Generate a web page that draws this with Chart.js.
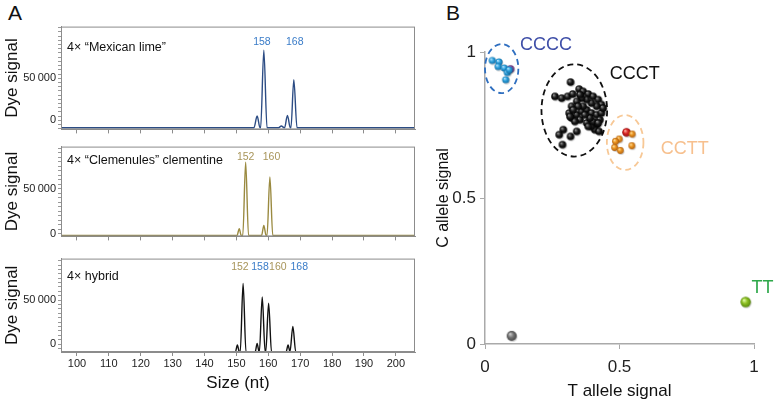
<!DOCTYPE html>
<html>
<head>
<meta charset="utf-8">
<script src="https://cdn.jsdelivr.net/npm/chart.js@4.4.0/dist/chart.umd.min.js"></script>
<style>
  body { margin: 0; background: #fff; width: 775px; height: 402px; overflow: hidden; position: relative; font-family: "Liberation Sans", Arial, sans-serif; }
  .box { position: absolute; }
  .lbl { position: absolute; font-size: 21px; color: #111; line-height: 24px; }
</style>
</head>
<body>
<div class="lbl" style="left:8px;top:1px">A</div>
<div class="lbl" style="left:446px;top:1px">B</div>
<div class="box" style="left:0;top:18px;width:420px;height:120px"><canvas id="p1"></canvas></div>
<div class="box" style="left:0;top:138px;width:420px;height:107px"><canvas id="p2"></canvas></div>
<div class="box" style="left:0;top:250px;width:420px;height:152px"><canvas id="p3"></canvas></div>
<div class="box" style="left:434px;top:0;width:341px;height:402px"><canvas id="scatter"></canvas></div>
<script>
var FONT = '"Liberation Sans", Arial, sans-serif';
Chart.defaults.font.family = FONT;
Chart.defaults.color = '#222';

// ---- panel A: electropherograms (size in nt, dye signal) ----
var limeSize   = [95, 150, 155.5, 156.5, 157.4, 157.6, 158.6, 159.6, 163.2, 164.1, 165.0, 165.1, 166.0, 166.9, 167.1, 168.0, 169.0, 170, 206];
var limeSignal = [-8800, -8800, -8800, 5100, -8800, -8800, 83400, -8800, -8800, -6800, -8800, -8800, 5800, -8800, -8800, 48100, -8800, -8800, -8800];

var clemSize   = [95, 150.2, 150.9, 151.5, 152.0, 152.9, 153.8, 157.9, 158.6, 159.3, 159.6, 160.5, 161.4, 206];
var clemSignal = [-1850, -1850, 5800, -1850, -1850, 79700, -1850, -1850, 9300, -1850, -1850, 63400, -1850, -1850];

var hybSize   = [95, 149.7, 150.3, 150.9, 151.2, 152.1, 153.0, 155.9, 156.5, 157.1, 157.2, 158.1, 159.0, 159.2, 160.1, 161.0, 165.6, 166.2, 166.8, 166.8, 167.7, 168.6, 206];
var hybSignal = [-8600, -8600, -1100, -8600, -8600, 69000, -8600, -8600, 800, -8600, -8600, 53700, -8600, -8600, 46600, -8600, -8600, -1100, -8600, -8600, 20100, -8600, -8600];

var sizeTicks   = [100, 110, 120, 130, 140, 150, 160, 170, 180, 190, 200];
var signalTicks = [-10000, -5000, 0, 5000, 10000, 15000, 20000, 25000, 30000, 35000, 40000, 45000, 50000,
                   55000, 60000, 65000, 70000, 75000, 80000, 85000, 90000, 95000, 100000, 105000, 110000];
var signalLabels = { 0: '0', 50000: '50\u2009000' };

var OLIVE = '#a8955a', BLUE = '#3a7cc8';
var limePeakPos = [158.0, 168.3];
var limePeakLbl = ['158', '168'];
var clemPeakPos = [152.9, 161.0];
var clemPeakLbl = ['152', '160'];
var hybPeakPos  = [151.1, 157.4, 163.0, 169.7];
var hybPeakLbl  = ['152', '158', '160', '168'];

// ---- panel B: allele signals ----
var ccccT = [0.027, 0.052, 0.049, 0.072, 0.083, 0.077, 0.090];
var ccccC = [0.971, 0.966, 0.950, 0.945, 0.930, 0.905, 0.939];
var purpleT = [0.095];
var purpleC = [0.942];
var ccctT = [0.318, 0.260, 0.285, 0.307, 0.326, 0.350, 0.365, 0.384, 0.402, 0.421, 0.433, 0.415, 0.396, 0.378, 0.359, 0.341, 0.322, 0.313, 0.322, 0.341, 0.359, 0.378, 0.396, 0.415, 0.433, 0.427, 0.415, 0.408, 0.424, 0.396, 0.378, 0.353, 0.334, 0.316, 0.291, 0.276, 0.288, 0.318, 0.341, 0.384, 0.402, 0.365, 0.346, 0.328, 0.390, 0.421, 0.439, 0.371, 0.353];
var ccctC = [0.897, 0.848, 0.842, 0.848, 0.856, 0.873, 0.865, 0.856, 0.848, 0.837, 0.820, 0.814, 0.825, 0.837, 0.842, 0.831, 0.814, 0.791, 0.774, 0.785, 0.797, 0.802, 0.791, 0.785, 0.791, 0.768, 0.751, 0.734, 0.728, 0.745, 0.757, 0.768, 0.762, 0.779, 0.734, 0.717, 0.683, 0.711, 0.728, 0.745, 0.762, 0.814, 0.814, 0.802, 0.774, 0.757, 0.808, 0.785, 0.854];
var ccttT = [0.547, 0.499, 0.485, 0.482, 0.503, 0.546];
var ccttC = [0.719, 0.702, 0.694, 0.673, 0.663, 0.679];
var redT = [0.526];
var redC = [0.725];
var ttT = [0.969];
var ttC = [0.144];
var nullT = [0.099];
var nullC = [0.028];

var groupNames = ['CCCC', 'CCCT', 'CCTT', 'TT'];
var groupLabelT = [0.227, 0.557, 0.743, 1.032];
var groupLabelC = [1.025, 0.926, 0.669, 0.190];
var groupColors = ['#3f4fa8', '#111111', '#f7c08e', '#2ea84a'];
// dashed ellipses: centre and radii in data units
var ellT  = [0.062, 0.332, 0.521];
var ellC  = [0.943, 0.800, 0.690];
var ellRT = [0.062, 0.122, 0.068];
var ellRC = [0.084, 0.158, 0.094];
var ellColors = ['#2f6fc0', '#111111', '#f7c896'];

function pts(xs, ys) { return xs.map(function (x, i) { return { x: x, y: ys[i] }; }); }

function fixedTicks(vals) {
  return function (ax) {
    ax.ticks = vals.filter(function (v) { return v >= ax.min && v <= ax.max; })
                   .map(function (v) { return { value: v }; });
  };
}

function panelDeco(title, titleDy, pos, lbl, colors, peakDy) {
  return {
    id: 'panelDeco',
    afterDraw: function (chart) {
      var ctx = chart.ctx, a = chart.chartArea, xs = chart.scales.x;
      ctx.save();
      ctx.strokeStyle = '#8c8c8c';
      ctx.lineWidth = 1;
      ctx.strokeRect(a.left + 0.5, a.top + 0.5, a.right - a.left - 1, a.bottom - a.top - 1);
      ctx.fillStyle = '#111';
      ctx.font = '12.5px ' + FONT;
      ctx.textBaseline = 'middle';
      ctx.textAlign = 'left';
      ctx.fillText(title, a.left + 6, a.top + titleDy);
      ctx.font = '10.5px ' + FONT;
      ctx.textAlign = 'center';
      pos.forEach(function (p, i) {
        ctx.fillStyle = colors[i];
        ctx.fillText(lbl[i], xs.getPixelForValue(p), a.top + peakDy);
      });
      ctx.restore();
    }
  };
}

function makePanel(id, sizes, signals, lineColor, yMin, yMax, xHeight, showX, deco) {
  return new Chart(document.getElementById(id), {
    type: 'line',
    data: {
      datasets: [{
        data: pts(sizes, signals),
        borderColor: lineColor,
        borderWidth: 1.4,
        pointRadius: 0,
        cubicInterpolationMode: 'monotone',
        fill: false
      }]
    },
    options: {
      responsive: true,
      maintainAspectRatio: false,
      animation: false,
      layout: { padding: { top: 7, right: 5, left: 0, bottom: 0 } },
      scales: {
        x: {
          type: 'linear', min: 95, max: 206,
          afterFit: function (ax) { ax.height = xHeight; },
          afterBuildTicks: fixedTicks(sizeTicks),
          ticks: {
            autoSkip: false, maxRotation: 0, padding: 1,
            font: { size: 11 }, color: '#222',
            callback: function (v) { return showX ? String(v) : ''; }
          },
          grid: { drawOnChartArea: false, tickLength: 4, color: '#8c8c8c' },
          border: { color: '#8c8c8c' },
          title: { display: showX, text: 'Size (nt)', font: { size: 17 }, color: '#111', padding: { top: 0, bottom: 8 } }
        },
        y: {
          type: 'linear', min: yMin, max: yMax,
          afterFit: function (ax) { ax.width = 61; },
          afterBuildTicks: fixedTicks(signalTicks),
          ticks: {
            autoSkip: false, padding: 2,
            font: { size: 11 }, color: '#222',
            callback: function (v) { return signalLabels[v] || ''; }
          },
          grid: { drawOnChartArea: false, tickLength: 3, color: '#999' },
          border: { color: '#8c8c8c' },
          title: { display: true, text: 'Dye signal', font: { size: 17 }, color: '#111', padding: { top: 2, bottom: 0 } }
        }
      },
      plugins: { legend: { display: false }, tooltip: { enabled: false } }
    },
    plugins: [deco]
  });
}

makePanel('p1', limeSize, limeSignal, '#2c4c84', -10800, 111300, 8, false,
  panelDeco('4\u00d7 \u201cMexican lime\u201d', 21, limePeakPos, limePeakLbl, [BLUE, BLUE], 16));
makePanel('p2', clemSize, clemSignal, '#9a8a40', -2900, 97100, 8, false,
  panelDeco('4\u00d7 \u201cClemenules\u201d clementine', 14, clemPeakPos, clemPeakLbl, [OLIVE, OLIVE], 11));
makePanel('p3', hybSize, hybSignal, '#111111', -9000, 97300, 50, true,
  panelDeco('4\u00d7 hybrid', 18, hybPeakPos, hybPeakLbl, [OLIVE, BLUE, OLIVE, BLUE], 9));

// shaded sphere markers
function sphere(r, base, hi, dark) {
  var s = Math.ceil(r * 2 + 4);
  var c = document.createElement('canvas');
  c.width = s; c.height = s;
  var g = c.getContext('2d');
  var cx = s / 2, cy = s / 2;
  g.fillStyle = 'rgba(0,0,0,0.18)';
  g.beginPath(); g.arc(cx + 0.8, cy + 1.1, r, 0, Math.PI * 2); g.fill();
  var grd = g.createRadialGradient(cx - r * 0.35, cy - r * 0.4, r * 0.05, cx, cy, r);
  grd.addColorStop(0, hi);
  grd.addColorStop(0.5, base);
  grd.addColorStop(1, dark);
  g.fillStyle = grd;
  g.beginPath(); g.arc(cx, cy, r, 0, Math.PI * 2); g.fill();
  return c;
}

function ballSet(xs, ys, img, r) {
  return { data: pts(xs, ys), pointStyle: img, pointRadius: r, clip: false, showLine: false };
}

var scatterDeco = {
  id: 'scatterDeco',
  beforeDatasetsDraw: function (chart) {
    var ctx = chart.ctx, xs = chart.scales.x, ys = chart.scales.y;
    ctx.save();
    ctx.lineWidth = 1.8;
    ctx.setLineDash([6, 4]);
    ellT.forEach(function (t, i) {
      var cx = xs.getPixelForValue(t), cy = ys.getPixelForValue(ellC[i]);
      var rx = xs.getPixelForValue(t + ellRT[i]) - cx;
      var ry = cy - ys.getPixelForValue(ellC[i] + ellRC[i]);
      ctx.strokeStyle = ellColors[i];
      ctx.beginPath();
      ctx.ellipse(cx, cy, rx, ry, 0, 0, Math.PI * 2);
      ctx.stroke();
    });
    ctx.restore();
  },
  afterDraw: function (chart) {
    var ctx = chart.ctx, xs = chart.scales.x, ys = chart.scales.y;
    ctx.save();
    ctx.font = '18px ' + FONT;
    ctx.textBaseline = 'middle';
    ctx.textAlign = 'center';
    groupNames.forEach(function (n, i) {
      ctx.fillStyle = groupColors[i];
      ctx.fillText(n, xs.getPixelForValue(groupLabelT[i]), ys.getPixelForValue(groupLabelC[i]));
    });
    ctx.restore();
  }
};

new Chart(document.getElementById('scatter'), {
  type: 'scatter',
  data: {
    datasets: [
      ballSet(ccctT, ccctC, sphere(3.8, '#1c1c1c', '#9a9a9a', '#000'), 3.8),
      ballSet(ccccT, ccccC, sphere(3.6, '#2aa0dc', '#bfe8ff', '#1470a8'), 3.6),
      ballSet(purpleT, purpleC, sphere(3.8, '#8a4c9e', '#d8b0e8', '#5a2a70'), 3.8),
      ballSet(ccttT, ccttC, sphere(3.4, '#ea9420', '#ffe0a0', '#b06010'), 3.4),
      ballSet(redT, redC, sphere(4.3, '#d82424', '#ffb0a0', '#901010'), 4.3),
      ballSet(ttT, ttC, sphere(5.2, '#8cc020', '#e8ffb0', '#5a8a10'), 5.2),
      ballSet(nullT, nullC, sphere(5, '#777', '#d0d0d0', '#444'), 5)
    ]
  },
  options: {
    responsive: true,
    maintainAspectRatio: false,
    animation: false,
    layout: { padding: { top: 52, right: 21, left: 0, bottom: 0 } },
    scales: {
      x: {
        type: 'linear', min: 0, max: 1,
        afterFit: function (ax) { ax.height = 58; },
        ticks: { stepSize: 0.5, padding: 8, font: { size: 17 }, color: '#222', callback: function (v) { return String(v); } },
        grid: { drawOnChartArea: false, tickLength: 5, color: '#aaa' },
        border: { color: '#aaa', width: 1.5 },
        title: { display: true, text: 'T allele signal', font: { size: 17 }, color: '#111', padding: { top: 0, bottom: 0 } }
      },
      y: {
        type: 'linear', min: 0, max: 1,
        afterFit: function (ax) { ax.width = 51; },
        ticks: { stepSize: 0.5, padding: 4, font: { size: 17 }, color: '#222', callback: function (v) { return String(v); } },
        grid: { drawOnChartArea: false, tickLength: 5, color: '#aaa' },
        border: { color: '#aaa', width: 1.5 },
        title: { display: true, text: 'C allele signal', font: { size: 16 }, color: '#111', padding: { top: 0, bottom: 0 } }
      }
    },
    plugins: { legend: { display: false }, tooltip: { enabled: false } }
  },
  plugins: [scatterDeco]
});
</script>
</body>
</html>
